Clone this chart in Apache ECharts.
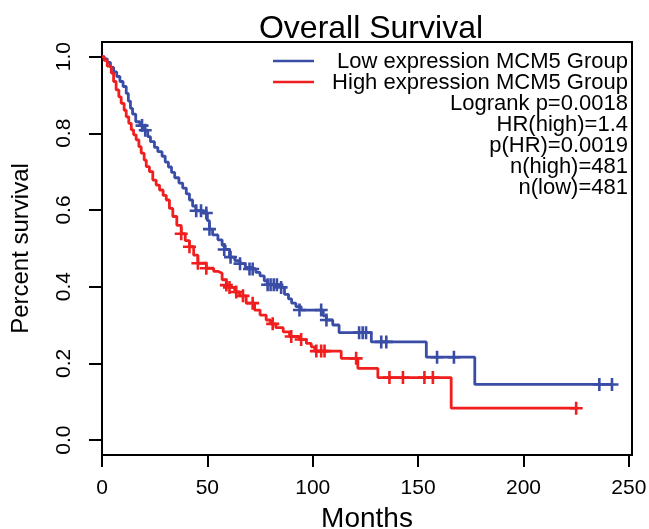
<!DOCTYPE html>
<html>
<head>
<meta charset="utf-8">
<script src="https://cdn.jsdelivr.net/npm/echarts@6/dist/echarts.min.js"></script>
<style>
html,body{margin:0;padding:0;background:#fff;}
#chart{width:649px;height:529px;}
</style>
</head>
<body>
<div id="chart"></div>
<script>
// ---- data ----
var lowTimes = [0,1,2.5,4,5.5,7,8.5,10,11.5,12.5,13.5,14.5,16,18,20,21.7,23,24.9,26.5,28.5,30,31.5,33,34.5,36.5,38.3,40,41.5,43,44.5,48,50,51,52.5,55,57,58.5,60.5,63,65.5,68,71,73,75,77,78.5,85,86.6,88.5,90,92,94.5,105,106.5,109.5,112.5,127.8,153.9,176.9,242];
var lowSurv  = [1,0.994,0.985,0.972,0.960,0.948,0.935,0.922,0.904,0.884,0.865,0.850,0.830,0.820,0.808,0.791,0.778,0.763,0.752,0.740,0.725,0.712,0.698,0.684,0.670,0.657,0.642,0.626,0.610,0.598,0.592,0.572,0.550,0.535,0.522,0.508,0.497,0.477,0.468,0.460,0.450,0.446,0.437,0.428,0.415,0.405,0.398,0.380,0.368,0.357,0.348,0.339,0.324,0.313,0.300,0.280,0.256,0.216,0.145,0.145];
var highTimes = [0,1,2.5,4.4,5.5,6.7,8,9.1,10.5,11.5,12.7,13.9,15,16.2,17.5,18.6,20,21,22.5,24.1,25.7,27.3,29,30.5,32,33.6,35.5,37.6,39.5,41.5,43.5,45.5,49.5,53,55,57,59,60.5,63,65.3,68.4,72.4,75,77.9,80,82.5,86,89,93.7,97,99.3,101,113.5,121.4,130.9,165.7,225];
var highSurv  = [1,0.990,0.975,0.957,0.935,0.913,0.895,0.878,0.860,0.843,0.826,0.809,0.796,0.783,0.765,0.748,0.730,0.713,0.700,0.678,0.665,0.652,0.638,0.626,0.604,0.583,0.560,0.538,0.520,0.504,0.482,0.461,0.448,0.440,0.435,0.418,0.404,0.398,0.386,0.376,0.357,0.339,0.326,0.313,0.303,0.293,0.282,0.270,0.262,0.252,0.243,0.232,0.213,0.187,0.163,0.083,0.083];
var lowCensorTimes = [19,20.5,44.7,47,49.5,51,58,61,65.5,70,71.5,78.6,80,81.5,83,85,93.7,104,106.5,122,123.7,125.3,132.5,134.9,159,167,236,242];
var lowCensorSurv  = [0.820,0.808,0.598,0.598,0.592,0.550,0.497,0.477,0.460,0.446,0.446,0.405,0.405,0.405,0.405,0.398,0.339,0.339,0.313,0.280,0.280,0.280,0.256,0.256,0.216,0.216,0.145,0.145];
var highCensorTimes = [37.6,41.5,45.5,49.5,59,60.5,63.7,66.9,71.5,81,89.8,94.5,101.7,104,105.6,120.6,136.4,142.8,153,157,225];
var highCensorSurv  = [0.538,0.504,0.461,0.448,0.404,0.398,0.386,0.376,0.357,0.303,0.270,0.262,0.232,0.232,0.232,0.213,0.163,0.163,0.163,0.163,0.083];
var xTicks = [0,50,100,150,200,250];
var yTicks = [0,0.2,0.4,0.6,0.8,1.0];
var legendNames = ['Low expression MCM5 Group','High expression MCM5 Group'];
var statTexts = ['Logrank p=0.0018','HR(high)=1.4','p(HR)=0.0019','n(high)=481','n(low)=481'];
var titleText = 'Overall Survival';
var xName = 'Months';
var yName = 'Percent survival';

// ---- styling ----
var BLUE = '#3A4DA6';
var RED = '#F01E1E';
var FONT = 'Liberation Sans, Arial, Helvetica, sans-serif';
var PLUS = 'path://M4,0H6V10H4Z M0,4H10V6H0Z';

function zip(a,b){ return a.map(function(v,i){ return [v,b[i]]; }); }

var chart = echarts.init(document.getElementById('chart'), null, {renderer:'canvas'});

var graphics = [];
var legendColors = [BLUE, RED];
var rowY = [62,83,104,125,146,167,188];
for (var i=0;i<2;i++){
  graphics.push({type:'line', shape:{x1:273,y1:rowY[i]-1,x2:314,y2:rowY[i]-1}, style:{stroke:legendColors[i], lineWidth:2.5}});
  graphics.push({type:'text', x:628, y:rowY[i], style:{text:legendNames[i], font:'22px '+FONT, fill:'#000', textAlign:'right', textVerticalAlign:'middle'}});
}
for (var j=0;j<statTexts.length;j++){
  graphics.push({type:'text', x:628, y:rowY[j+2], style:{text:statTexts[j], font:'22px '+FONT, fill:'#000', textAlign:'right', textVerticalAlign:'middle'}});
}

var option = {
  animation:false,
  backgroundColor:'#fff',
  title:{text:titleText, left:366, top:8, textAlign:'center',
    textStyle:{fontFamily:FONT, fontSize:32, fontWeight:'normal', color:'#000'}},
  grid:{left:102, right:17, top:42, bottom:74, show:true, borderColor:'#000', borderWidth:2,
    backgroundColor:'transparent', containLabel:false, outerBoundsMode:'none'},
  xAxis:{type:'value', min:0, max:251.5,
    name:xName, nameLocation:'middle', nameGap:50, nameMoveOverlap:false,
    nameTextStyle:{fontFamily:FONT, fontSize:28, color:'#000'},
    axisLine:{show:true, onZero:false, lineStyle:{color:'#000', width:2}},
    axisTick:{show:true, inside:false, length:12, lineStyle:{color:'#000', width:2}, customValues:xTicks},
    axisLabel:{show:true, margin:23, fontFamily:FONT, fontSize:21, color:'#000', customValues:xTicks},
    splitLine:{show:false}},
  yAxis:{type:'value', min:-0.039, max:1.038,
    name:yName, nameLocation:'middle', nameGap:69, nameMoveOverlap:false,
    nameTextStyle:{fontFamily:FONT, fontSize:24, color:'#000'},
    axisLine:{show:true, onZero:false, lineStyle:{color:'#000', width:2}},
    axisTick:{show:true, inside:false, length:13, lineStyle:{color:'#000', width:2}, customValues:yTicks},
    axisLabel:{show:true, rotate:90, margin:27, fontFamily:FONT, fontSize:21, color:'#000', customValues:yTicks,
      formatter:function(v){ return v.toFixed(1); }},
    splitLine:{show:false}},
  series:[
    {name:legendNames[0], type:'line', step:'end', showSymbol:false, data:zip(lowTimes,lowSurv),
      lineStyle:{color:BLUE, width:2.8}, itemStyle:{color:BLUE}, z:3},
    {name:legendNames[1], type:'line', step:'end', showSymbol:false, data:zip(highTimes,highSurv),
      lineStyle:{color:RED, width:2.8}, itemStyle:{color:RED}, z:3},
    {name:legendNames[0]+' censored', type:'scatter', symbol:PLUS, symbolSize:13, data:zip(lowCensorTimes,lowCensorSurv),
      itemStyle:{color:BLUE, opacity:1}, z:4},
    {name:legendNames[1]+' censored', type:'scatter', symbol:PLUS, symbolSize:13, data:zip(highCensorTimes,highCensorSurv),
      itemStyle:{color:RED, opacity:1}, z:4}
  ],
  graphic:graphics
};
chart.setOption(option);
</script>
</body>
</html>
